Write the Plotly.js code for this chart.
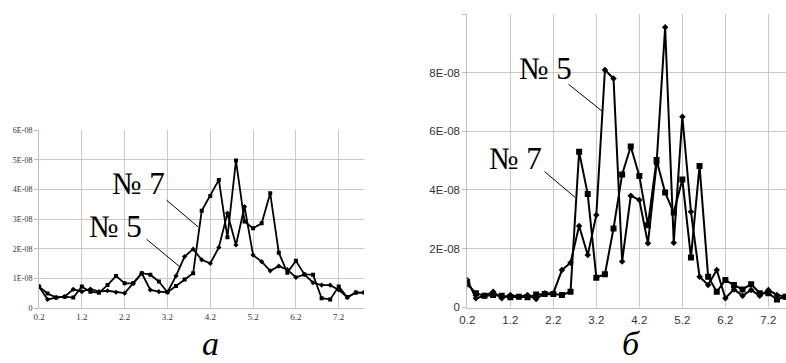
<!DOCTYPE html>
<html>
<head>
<meta charset="utf-8">
<script src="https://cdn.plot.ly/plotly-3.0.1.min.js"></script>
<style>html,body{margin:0;padding:0;background:#fff;}#chart{width:786px;height:363px;}</style>
</head>
<body>
<div id="chart"></div>
<script>
// ---- Panel "а" (left) ----
const xA = [0.2,0.4,0.6,0.8,1.0,1.2,1.4,1.6,1.8,2.0,2.2,2.4,2.6,2.8,3.0,3.2,3.4,3.6,3.8,4.0,4.2,4.4,4.6,4.8,5.0,5.2,5.4,5.6,5.8,6.0,6.2,6.4,6.6,6.8,7.0,7.2,7.4,7.6,7.8];
const a_no7 = [0.73,0.50,0.36,0.39,0.36,0.73,0.56,0.52,0.78,1.09,0.84,0.84,1.18,1.13,0.90,0.54,0.75,0.97,1.18,3.28,3.78,4.32,2.39,4.97,2.92,2.69,2.86,3.87,1.87,1.20,1.60,1.14,1.13,0.34,0.30,0.73,0.37,0.53,0.53];
const a_no5 = [0.73,0.30,0.36,0.39,0.64,0.56,0.65,0.56,0.59,0.54,0.51,0.84,1.18,0.62,0.56,0.54,1.09,1.74,1.99,1.63,1.51,2.05,3.20,2.13,3.42,1.79,1.57,1.26,1.42,1.30,1.04,1.14,0.86,0.78,0.78,0.62,0.37,0.53,0.53];
// ---- Panel "б" (right) ----
const xB = [0.2,0.4,0.6,0.8,1.0,1.2,1.4,1.6,1.8,2.0,2.2,2.4,2.6,2.8,3.0,3.2,3.4,3.6,3.8,4.0,4.2,4.4,4.6,4.8,5.0,5.2,5.4,5.6,5.8,6.0,6.2,6.4,6.6,6.8,7.0,7.2,7.4,7.6];
const b_no7 = [0.79,0.48,0.39,0.42,0.39,0.34,0.36,0.34,0.44,0.45,0.45,0.42,0.53,5.30,3.86,1.01,1.13,2.69,4.53,5.48,4.48,2.80,5.02,3.91,3.23,4.36,1.70,4.82,1.04,0.53,0.93,0.76,0.61,0.79,0.48,0.48,0.27,0.36];
const b_no5 = [0.93,0.31,0.39,0.53,0.31,0.42,0.36,0.42,0.28,0.48,0.48,1.27,1.52,2.77,1.78,3.15,8.09,7.80,1.56,3.80,3.66,2.18,4.89,9.55,2.20,6.50,3.26,1.04,0.76,1.27,0.31,0.61,0.39,0.59,0.39,0.59,0.42,0.36];
const SCALE = 1e-8;

const xTickVals = [0.2,1.2,2.2,3.2,4.2,5.2,6.2,7.2];
const xTickText = ['0.2','1.2','2.2','3.2','4.2','5.2','6.2','7.2'];
const yTickValsA = [0,1e-8,2e-8,3e-8,4e-8,5e-8,6e-8];
const yTickTextA = ['0','1E-08','2E-08','3E-08','4E-08','5E-08','6E-08'];
const yTickValsB = [0,2e-8,4e-8,6e-8,8e-8,1e-7];
const yTickTextB = ['0','2E-08','4E-08','6E-08','8E-08',''];
const labels = ['№ 7','№ 5'];
const panelLabels = ['а','б'];

const sc = arr => arr.map(v => v*SCALE);
const serif = 'Liberation Serif, Times New Roman, serif';
const narrow = 'Liberation Sans Narrow, Arial Narrow, Liberation Sans, sans-serif';
const grid = '#c9c9c9';

const traces = [
  {x:xA, y:sc(a_no7), xaxis:'x', yaxis:'y', mode:'lines+markers', line:{color:'#000',width:1.8}, marker:{symbol:'square',size:4,color:'#000'}},
  {x:xA, y:sc(a_no5), xaxis:'x', yaxis:'y', mode:'lines+markers', line:{color:'#000',width:1.8}, marker:{symbol:'diamond',size:4,color:'#000'}},
  {x:xB, y:sc(b_no7), xaxis:'x2', yaxis:'y2', mode:'lines+markers', line:{color:'#000',width:2}, marker:{symbol:'square',size:6,color:'#000'}},
  {x:xB, y:sc(b_no5), xaxis:'x2', yaxis:'y2', mode:'lines+markers', line:{color:'#000',width:2}, marker:{symbol:'diamond',size:5,color:'#000'}}
];

function xax(domain, range, font, standoff){
  return {domain:domain, range:range, tickvals:xTickVals, ticktext:xTickText, showgrid:true, gridcolor:grid, gridwidth:1,
    showline:true, linecolor:'#bdbdbd', linewidth:1, ticks:'', 
    zeroline:false, tickfont:font, ticklabelstandoff:standoff, fixedrange:true};
}
function yax(domain, range, vals, text, font, anchor){
  return {domain:domain, range:range, tickvals:vals, ticktext:text, showgrid:true, gridcolor:grid, gridwidth:1,
    showline:true, linecolor:'#bdbdbd', linewidth:1, ticks:'outside', ticklen:4, tickcolor:'#bdbdbd',
    zeroline:false, tickfont:font, anchor:anchor, fixedrange:true};
}

const labFont = {family:serif, size:31, color:'#000'};
const annotations = [
  // left panel labels
  {xref:'x', yref:'y', x:2.525, y:4.2e-8, text:labels[0], showarrow:false, font:labFont},
  {xref:'x', yref:'y', x:1.987, y:2.75e-8, text:labels[1], showarrow:false, font:labFont},
  {xref:'x', yref:'y', x:3.915, y:2.74e-8, text:'', showarrow:true, arrowhead:0, arrowwidth:1, arrowcolor:'#000', ax:-33, ay:-28, standoff:0},
  {xref:'x', yref:'y', x:3.494, y:1.39e-8, text:'', showarrow:true, arrowhead:0, arrowwidth:1, arrowcolor:'#000', ax:-35, ay:-29, standoff:0},
  // right panel labels
  {xref:'x2', yref:'y2', x:2.007, y:8.14e-8, text:labels[1], showarrow:false, font:labFont},
  {xref:'x2', yref:'y2', x:1.309, y:5.07e-8, text:labels[0], showarrow:false, font:labFont},
  {xref:'x2', yref:'y2', x:3.333, y:6.69e-8, text:'', showarrow:true, arrowhead:0, arrowwidth:1, arrowcolor:'#000', ax:-35, ay:-28, standoff:0},
  {xref:'x2', yref:'y2', x:2.705, y:3.75e-8, text:'', showarrow:true, arrowhead:0, arrowwidth:1, arrowcolor:'#000', ax:-32, ay:-27, standoff:0},
  // panel letters
  {xref:'paper', yref:'paper', x:201/786, y:0, yanchor:'bottom', borderpad:0, text:'<i>'+panelLabels[0]+'</i>', showarrow:false, font:{family:serif, size:34, color:'#000'}},
  {xref:'paper', yref:'paper', x:642/786, y:0, yanchor:'bottom', borderpad:0, text:'<i>'+panelLabels[1]+'</i>', showarrow:false, font:{family:serif, size:34, color:'#000'}}
];

const layout = {
  width:786, height:363, margin:{l:0,r:0,t:0,b:0}, paper_bgcolor:'#fff', plot_bgcolor:'#fff', showlegend:false,
  xaxis: xax([39/786, 364/786], [0.2, 7.79], {family:serif, size:9, color:'#333'}, 0),
  yaxis: yax([(363-308.3)/363, (363-130)/363], [0, 6e-8], yTickValsA, yTickTextA, {family:serif, size:8, color:'#333'}, 'x'),
  xaxis2: xax([467.3/786, 1], [0.2, 7.61], {family:narrow, size:11.5, color:'#333'}, 1),
  yaxis2: yax([(363-307.3)/363, (363-14)/363], [0, 1e-7], yTickValsB, yTickTextB, {family:narrow, size:11.5, color:'#333'}, 'x2'),
  annotations: annotations
};

Plotly.newPlot('chart', traces, layout, {staticPlot:true, displayModeBar:false});
</script>
</body>
</html>
